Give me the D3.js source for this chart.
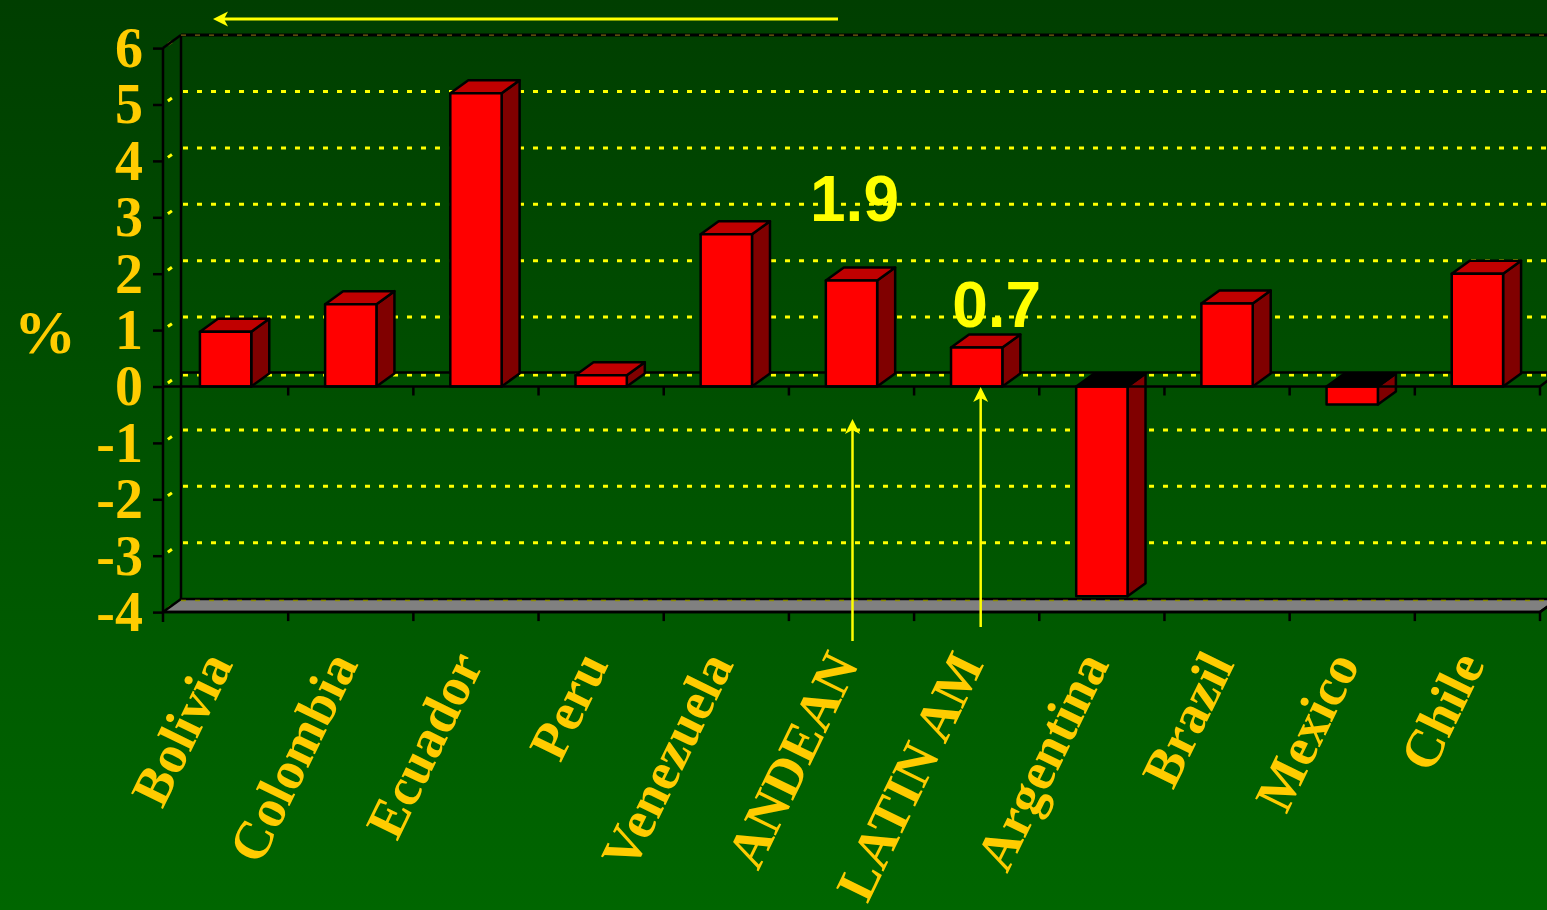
<!DOCTYPE html>
<html>
<head>
<meta charset="utf-8">
<script src="https://cdn.jsdelivr.net/npm/d3@7"></script>
<style>
  html, body { margin: 0; padding: 0; background: #004a00; overflow: hidden; }
  svg { display: block; }
</style>
</head>
<body>
<svg id="chart" width="1547" height="910"></svg>
<script>
// ---- data ----
const categories = ["Bolivia", "Colombia", "Ecuador", "Peru", "Venezuela", "ANDEAN", "LATIN AM", "Argentina", "Brazil", "Mexico", "Chile"];
const values = [0.97, 1.46, 5.2, 0.2, 2.7, 1.88, 0.69, -3.72, 1.47, -0.32, 2.0];
const yTicks = [-4, -3, -2, -1, 0, 1, 2, 3, 4, 5, 6];
const calloutCats = ["ANDEAN", "LATIN AM"];
const calloutLabels = ["1.9", "0.7"];

// ---- layout ----
const W = 1547, H = 910;
const plotLeft = 163, plotRight = 1540, plotTop = 48.1, plotBottom = 612.1;
const DX = 18, DY = -13;
const gold = "#FFCC00", yellow = "#FFFF00";
const serif = "'Liberation Serif', 'Times New Roman', serif";
const sans = "'Liberation Sans', Arial, sans-serif";

const svg = d3.select("#chart");
const defs = svg.append("defs");
const grad = defs.append("linearGradient").attr("id", "bg").attr("x1", 0).attr("y1", 0).attr("x2", 0).attr("y2", 1);
grad.append("stop").attr("offset", "0%").attr("stop-color", "#003e00");
grad.append("stop").attr("offset", "100%").attr("stop-color", "#006600");
svg.append("rect").attr("width", W).attr("height", H).attr("fill", "url(#bg)");

const x = d3.scaleBand().domain(categories).range([plotLeft, plotRight]).padding(0);
const y = d3.scaleLinear().domain([-4, 6]).range([plotBottom, plotTop]);
const step = x.step();
const bw = step * 0.41;
const cx = c => x(c) + step / 2;
const pts = a => a.map(p => p.join(",")).join(" ");

// ---- gridlines (side wall + back wall) ----
const grid = svg.append("g");
yTicks.forEach(v => {
  const edge = (v === 6 || v === -4);
  const col = edge ? "#7a6410" : yellow;
  grid.append("line")
    .attr("x1", plotLeft).attr("y1", y(v)).attr("x2", plotLeft + DX).attr("y2", y(v) + DY)
    .attr("stroke", col).attr("stroke-width", 3).attr("stroke-dasharray", "0,6,5,20");
  const yy = y(v) + DY + (v === 0 ? 1.5 : 0);
  grid.append("line")
    .attr("x1", plotLeft + DX).attr("y1", yy).attr("x2", W + 20).attr("y2", yy)
    .attr("stroke", col).attr("stroke-width", edge ? 1.5 : 3).attr("stroke-dasharray", "5,9").attr("stroke-dashoffset", -2);
});

// back-wall black edges
const walls = svg.append("g").attr("stroke", "#000").attr("fill", "none").attr("stroke-width", 2.5);
walls.append("line").attr("x1", plotLeft + DX).attr("y1", y(6) + DY).attr("x2", W + 20).attr("y2", y(6) + DY).attr("stroke-width", 3);
walls.append("line").attr("x1", plotLeft + DX).attr("y1", y(6) + DY).attr("x2", plotLeft + DX).attr("y2", y(-4) + DY);
walls.append("line").attr("x1", plotLeft).attr("y1", y(6)).attr("x2", plotLeft + DX).attr("y2", y(6) + DY);
svg.append("line").attr("x1", plotLeft + DX).attr("y1", y(6) + DY).attr("x2", W + 20).attr("y2", y(6) + DY)
  .attr("stroke", "#7a6410").attr("stroke-width", 1.2).attr("stroke-dasharray", "5,9");
walls.append("line").attr("x1", plotLeft + DX).attr("y1", y(0) + DY - 1).attr("x2", plotRight + DX).attr("y2", y(0) + DY - 1);
walls.append("line").attr("x1", plotRight).attr("y1", y(0)).attr("x2", plotRight + DX).attr("y2", y(0) + DY - 1);

// ---- floor at -4 ----
svg.append("polygon")
  .attr("points", pts([[plotLeft, y(-4)], [plotLeft + DX, y(-4) + DY], [plotRight + DX, y(-4) + DY], [plotRight, y(-4)]]))
  .attr("fill", "#808080").attr("stroke", "#000").attr("stroke-width", 2.5).attr("stroke-linejoin", "round");
svg.append("line").attr("x1", plotLeft + DX).attr("y1", y(-4) + DY + 1.5).attr("x2", plotRight + DX).attr("y2", y(-4) + DY + 1.5)
  .attr("stroke", "#8a8a00").attr("stroke-width", 1.5).attr("stroke-dasharray", "5,9");

// ---- bars ----
const bars = svg.append("g").attr("stroke", "#000").attr("stroke-width", 2.5).attr("stroke-linejoin", "round");
categories.forEach((c, i) => {
  const v = values[i];
  const xl = cx(c) - bw / 2, xr = cx(c) + bw / 2;
  const yt = y(Math.max(v, 0)), yb = y(Math.min(v, 0));
  bars.append("polygon").attr("points", pts([[xr, yt], [xr + DX, yt + DY], [xr + DX, yb + DY], [xr, yb]])).attr("fill", "#800000");
  bars.append("polygon").attr("points", pts([[xl, yt], [xl + DX, yt + DY], [xr + DX, yt + DY], [xr, yt]])).attr("fill", v < 0 ? "#000000" : "#C00000");
  bars.append("rect").attr("x", xl).attr("y", yt).attr("width", bw).attr("height", yb - yt).attr("fill", "#FF0000");
});

// ---- front axes ----
const yAxis = d3.axisLeft(y).tickValues(yTicks).tickSize(10).tickPadding(10).tickFormat(d => d < 0 ? "-" + Math.abs(d) : String(d));
const ya = svg.append("g").attr("transform", `translate(${plotLeft},0)`).call(yAxis);
ya.select(".domain").remove();
ya.selectAll(".tick line").attr("stroke", "#000").attr("stroke-width", 2.5);
ya.selectAll(".tick text").attr("fill", gold).attr("font-family", serif).attr("font-weight", "bold")
  .attr("font-size", 56).attr("dy", "0.33em");

const ax = svg.append("g").attr("stroke", "#000").attr("stroke-width", 2.5);
ax.append("line").attr("x1", plotLeft).attr("y1", y(6)).attr("x2", plotLeft).attr("y2", y(-4) + 10);
[0, -4].forEach(v => {
  ax.append("line").attr("x1", plotLeft).attr("y1", y(v)).attr("x2", plotRight).attr("y2", y(v));
  categories.slice(1).concat([null]).forEach(c => {
    const xx = c === null ? plotRight : x(c);
    ax.append("line").attr("x1", xx).attr("y1", y(v)).attr("x2", xx).attr("y2", y(v) + 9);
  });
});
ax.append("line").attr("x1", plotRight).attr("y1", y(-4)).attr("x2", plotRight + DX).attr("y2", y(-4) + DY);

// ---- category labels ----
svg.append("g").selectAll("text").data(categories).join("text")
  .attr("transform", c => `translate(${cx(c) + 8},664) rotate(-64)`)
  .attr("text-anchor", "end")
  .attr("fill", gold).attr("font-family", serif).attr("font-weight", "bold").attr("font-size", 54)
  .text(c => c);

// % label
svg.append("text").attr("x", 45).attr("y", 353).attr("text-anchor", "middle")
  .attr("fill", gold).attr("font-family", serif).attr("font-weight", "bold").attr("font-size", 62).text("%");

// ---- callouts ----
const calloutDX = [3, 20], calloutY = [221, 327];
calloutCats.forEach((c, i) => {
  svg.append("text").attr("x", cx(c) + calloutDX[i]).attr("y", calloutY[i]).attr("text-anchor", "middle")
    .attr("fill", yellow).attr("font-family", sans).attr("font-weight", "bold").attr("font-size", 64)
    .text(calloutLabels[i]);
});

// arrows
function arrow(x1, y1, x2, y2, w) {
  const g = svg.append("g");
  const ang = Math.atan2(y2 - y1, x2 - x1);
  const L = 15, hw = 7.5, notch = 4;
  const bx = x2 - L * Math.cos(ang), by = y2 - L * Math.sin(ang);
  g.append("line").attr("x1", x1).attr("y1", y1).attr("x2", bx + notch * Math.cos(ang)).attr("y2", by + notch * Math.sin(ang))
    .attr("stroke", yellow).attr("stroke-width", w);
  const px = -Math.sin(ang), py = Math.cos(ang);
  g.append("polygon").attr("points", pts([
    [x2, y2], [bx + hw * px, by + hw * py], [bx + notch * Math.cos(ang), by + notch * Math.sin(ang)], [bx - hw * px, by - hw * py]
  ])).attr("fill", yellow);
}
arrow(838, 19, 213, 19, 3);
arrow(cx("ANDEAN") + 1, 641, cx("ANDEAN") + 1, 419, 2.5);
arrow(cx("LATIN AM") + 4, 627, cx("LATIN AM") + 4, 387, 2.5);
</script>
</body>
</html>
